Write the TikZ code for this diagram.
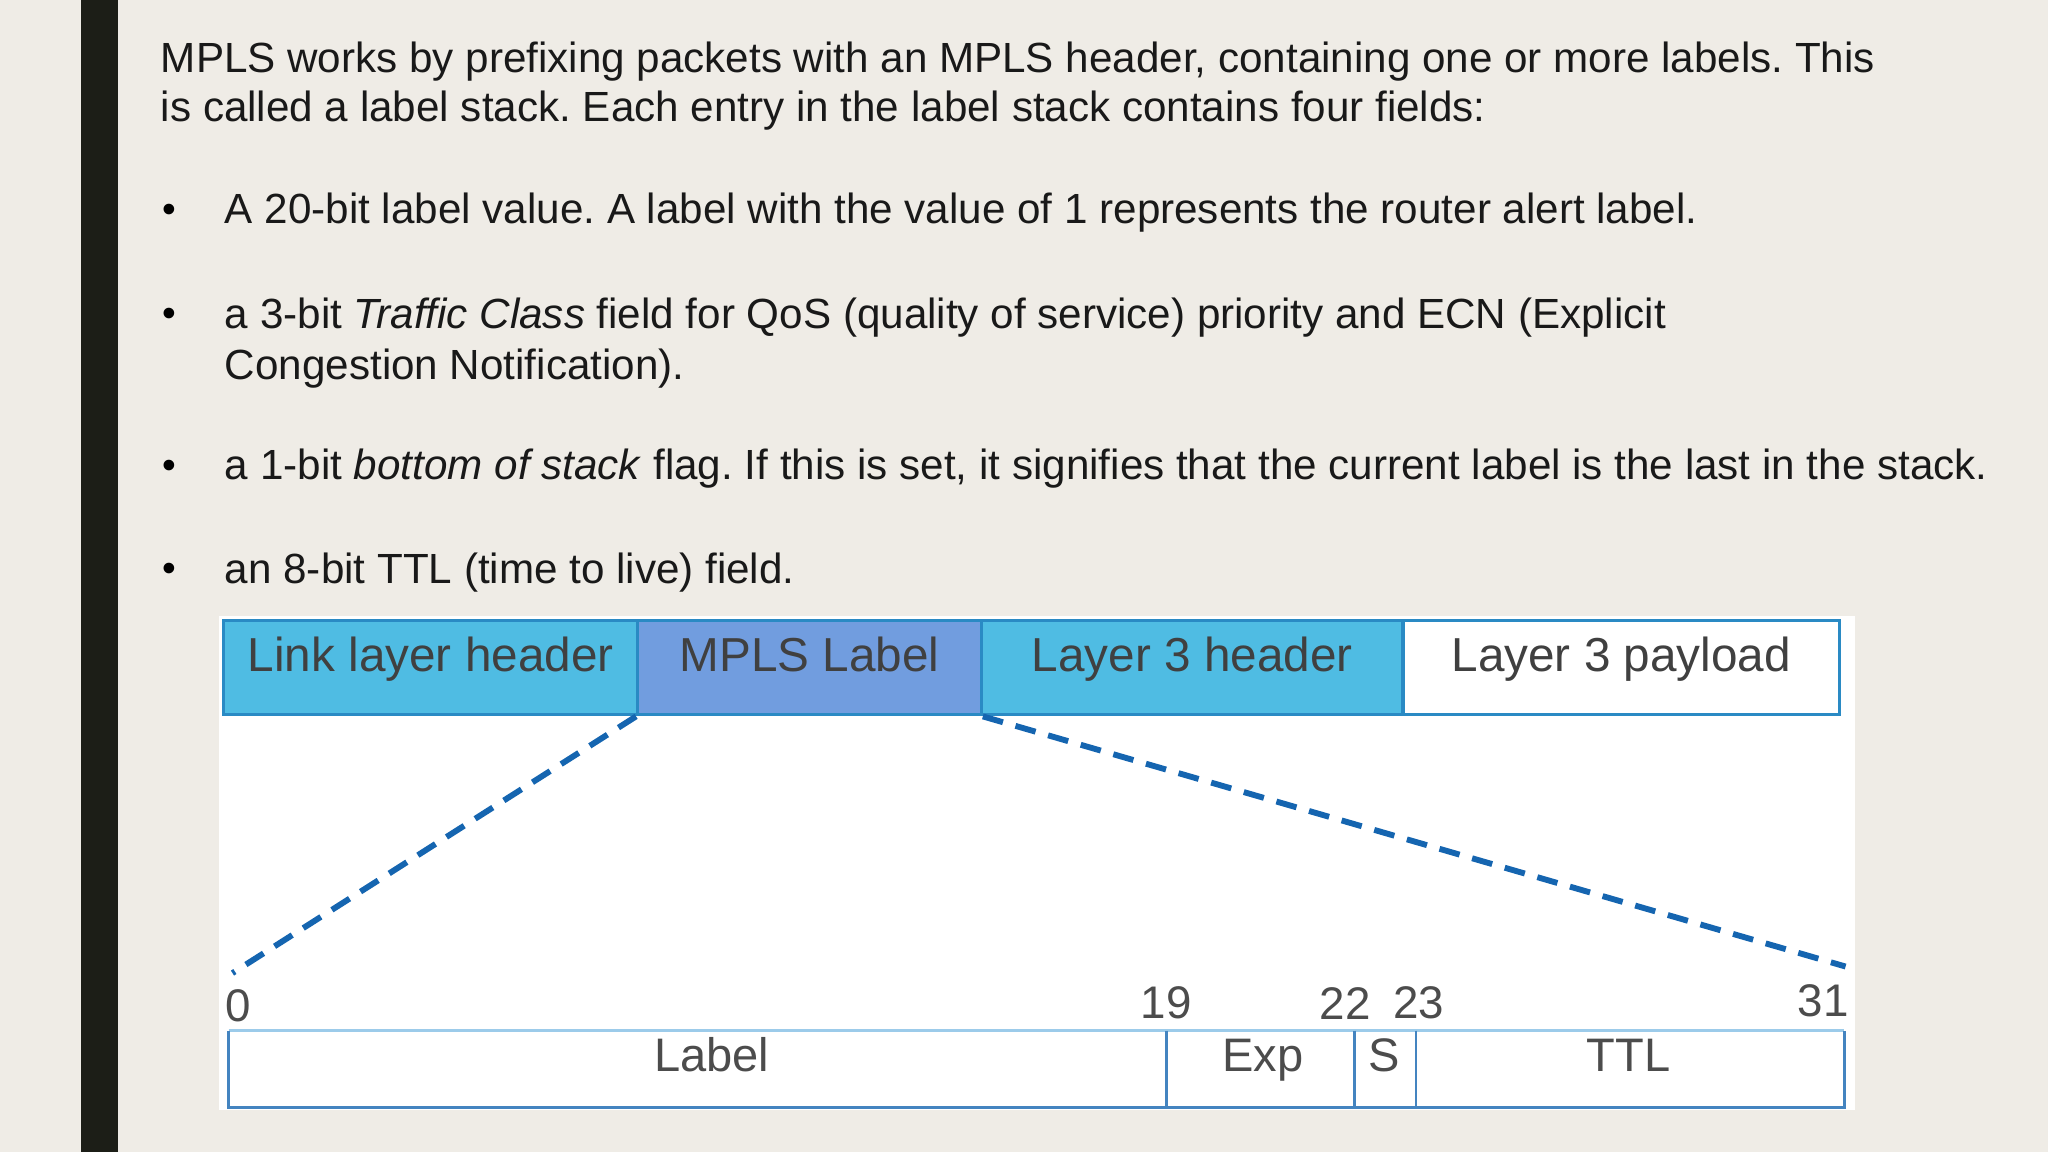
\documentclass[tikz,border=0pt]{standalone}
\usepackage{fontspec}
\setmainfont{Liberation Sans}
\frenchspacing
\begin{document}
\begin{tikzpicture}[x=1pt,y=-1pt,
  para/.style={anchor=west,font=\fontsize{32.3}{38}\selectfont,text=black!90,inner sep=0},
  bul/.style={anchor=center,font=\fontsize{30}{36}\selectfont,inner sep=0},
  hbox/.style={draw=boxblue,line width=2.5pt,anchor=north west,minimum height=72pt,inner sep=0,font=\fontsize{36.5}{42}\selectfont,text=black!75,text height=0.72em,text depth=0.2em},
  num/.style={font=\fontsize{35}{40}\selectfont,text=black!70,inner sep=0},
  fld/.style={font=\fontsize{36}{40}\selectfont,text=black!70,inner sep=0,text height=0.72em,text depth=0.2em},
  zoomline/.style={draw=dashblue,line width=4.5pt,dash pattern=on 16pt off 10pt}]
\definecolor{bg}{HTML}{EFECE6}
\definecolor{bar}{HTML}{1C1E17}
\definecolor{boxblue}{HTML}{2A8AC4}
\definecolor{cyanfill}{HTML}{4FBCE3}
\definecolor{mplsfill}{HTML}{719DDF}
\definecolor{dashblue}{HTML}{1565B0}
\definecolor{lowblue}{HTML}{9CCBEA}
\useasboundingbox (0,0) rectangle (1568,882);
\fill[bg] (0,0) rectangle (1568,882);
\fill[bar] (62,0) rectangle (90,882);
\node[para] (t1) at (123,47) {MPLS works by prefixing packets with an MPLS header, containing one or more labels. This};
\node[para] (t2) at (123,85) {is called a label stack. Each entry in the label stack contains four fields:};
\foreach \y in {163,243,359,438} \node[bul] at (130,\y) {•};
\node[para] (b1) at (172,163) {A 20-bit label value. A label with the value of 1 represents the router alert label.};
\node[para] (b2) at (172,243) {a 3-bit \textit{Traffic Class} field for QoS (quality of service) priority and ECN (Explicit};
\node[para] (b2b) at (172,282) {Congestion Notification).};
\node[para] (b3) at (172,359) {a 1-bit \textit{bottom of stack} flag. If this is set, it signifies that the current label is the last in the stack.};
\node[para] (b4) at (172,438) {an 8-bit TTL (time to live) field.};
\fill[white] (168,472) rectangle (1420,850);
\node[hbox,fill=cyanfill,minimum width=317pt] (h1) at (170,474) {Link layer header};
\node[hbox,fill=mplsfill,minimum width=263pt] (h2) at (487,474) {MPLS Label};
\node[hbox,fill=cyanfill,minimum width=323pt] (h3) at (750,474) {Layer 3 header};
\node[hbox,fill=white,minimum width=334pt] (h4) at (1073,474) {Layer 3 payload};
\coordinate (l0) at (178,745);
\coordinate (l31) at (1413,740);
\draw[zoomline] (h2.south west) -- (l0);
\draw[zoomline] (h2.south east) -- (l31);
\node[num] (n0) at (182,770) {0};
\node[num] (n19) at (893,768) {19};
\node[num] (n22) at (1030,768) {22};
\node[num] (n23) at (1086,768) {23};
\node[num] (n31) at (1396,766) {31};
\draw[lowblue,line width=2.5pt] (175,789) -- (1412,789);
\draw[dashblue!80,line width=2pt] (175,789) -- (175,848) -- (1412,848) -- (1412,789);
\foreach \x in {893,1037,1084} \draw[dashblue!80,line width=2pt] (\x,789) -- (\x,848);
\node[fld] (f1) at (545,818) {Label};
\node[fld] (f2) at (967,818) {Exp};
\node[fld] (f3) at (1060,818) {S};
\node[fld] (f4) at (1247,818) {TTL};
\end{tikzpicture}
\end{document}
